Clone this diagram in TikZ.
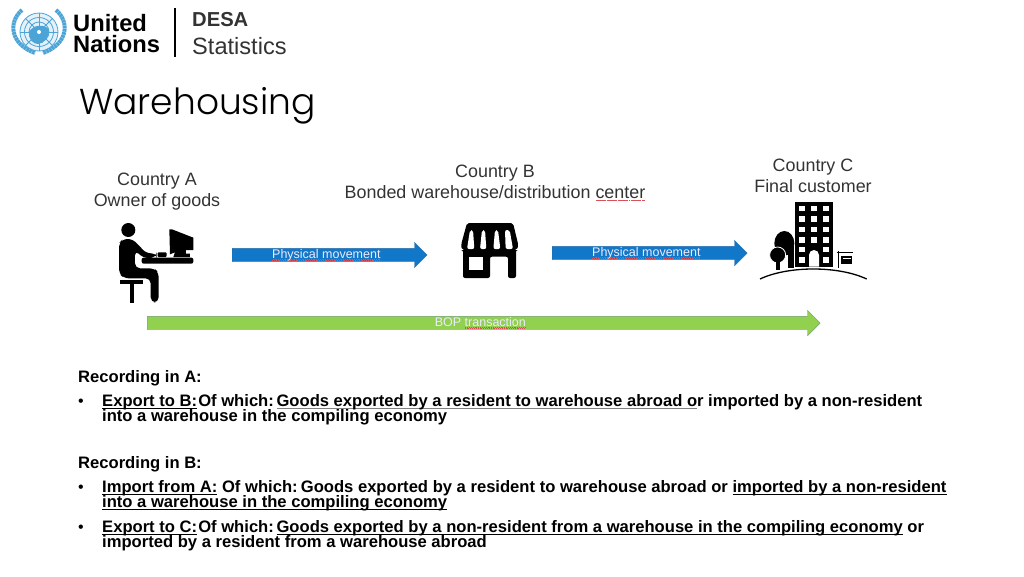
\documentclass[tikz,border=0pt]{standalone}
\usepackage{fontspec}
\usetikzlibrary{shapes.arrows}
\setmainfont{Liberation Sans}
\newfontfamily\titlefont{Poppins Light}
\definecolor{unblue}{HTML}{4BA3D6}
\definecolor{labelgray}{HTML}{333333}
\definecolor{moveblue}{HTML}{1177C8}
\definecolor{moveedge}{HTML}{2A6CA8}
\definecolor{bopgreen}{HTML}{92D050}
\definecolor{bopedge}{HTML}{6F9C6A}
\definecolor{spellred}{HTML}{D8505A}
\newsavebox{\linebox}
\newcommand{\uline}[1]{\sbox{\linebox}{#1}\rlap{\rule[-2.4pt]{\wd\linebox}{.8pt}}\usebox{\linebox}}
\newcommand{\grayline}[1]{\sbox{\linebox}{#1}\rlap{\textcolor{gray}{\rule[-2.6pt]{\wd\linebox}{1.1pt}}}\usebox{\linebox}}
\newcommand{\spellwave}[1]{\sbox{\linebox}{#1}\rlap{\textcolor{spellred}{\hbox to \wd\linebox{\xleaders\hbox{\rule[-1.9pt]{.6pt}{.3pt}\rule[-1.4pt]{.6pt}{.3pt}\hspace{.6pt}}\hfil}}}\usebox{\linebox}}

\begin{document}
\begin{tikzpicture}[x=1pt,y=-1pt]

    \tikzset{
      LabelStyle/.style = { text = labelgray, align = center,
                          font = \fontsize{17.9}{21}\selectfont },
      MoveStyle/.style = { single arrow, draw = moveedge, fill = moveblue,
                          text = white!92!blue, inner sep = 1.5pt,
                          text height = 8pt, text depth = 2pt,
                          single arrow head extend = 6pt,
                          single arrow head indent = 0pt,
                          minimum height = 195pt, anchor = tail,
                          font = \fontsize{12.5}{14}\selectfont },
      BopStyle/.style = { MoveStyle, draw = bopedge, fill = bopgreen,
                          minimum height = 673pt },
      BodyStyle/.style = { anchor = base west, inner sep = 0pt,
                          font = \fontsize{16.6}{18}\selectfont\bfseries },
      BulletStyle/.style = { anchor = base west, inner sep = 0pt,
                          font = \fontsize{16}{18}\selectfont },
      LogoLine/.style = { draw = unblue, line width = .8pt },
      LogoText/.style = { anchor = base west, inner sep = 0pt,
                          font = \fontsize{23.7}{24}\selectfont\bfseries },
      Wreath/.style = { draw = unblue, line width = 4pt,
                          dash pattern = on 2.6pt off .5pt } }

    \useasboundingbox (0,0) rectangle (1024,576);

    \fill[unblue!15] (39,32) circle (19);
    \draw[LogoLine] (39,32) circle (19);
    \draw[LogoLine] (39,32) circle (14.5);
    \draw[LogoLine] (39,32) circle (10);
    \draw[LogoLine] (39,32) circle (5.5);
    \draw[LogoLine] (20,32) -- (58,32);
    \draw[LogoLine] (39,13) -- (39,51);
    \draw[LogoLine] (25.6,18.6) -- (52.4,45.4);
    \draw[LogoLine] (25.6,45.4) -- (52.4,18.6);
    \fill[unblue] (29,32) .. controls (33,24) and (46,24) .. (49,30)
      .. controls (49,37) and (44,44) .. (38,44)
      .. controls (33,44) and (28,39) .. (29,32);
    \fill[white] (39,32) circle (2);
    \draw[Wreath] (22,10) .. controls (8,22) and (10,44) .. (35,53);
    \draw[Wreath] (56,10) .. controls (70,22) and (68,44) .. (43,53);

    \node[LogoText] (united) at (73,31) {United};
    \node[LogoText] (nations) at (73,52) {Nations};
    \draw[line width=2pt] (175,8) -- (175,57);
    \node[LogoText,text=labelgray,font=\fontsize{20.2}{24}\selectfont\bfseries] (desa) at (192,26) {DESA};
    \node[LogoText,text=labelgray,font=\fontsize{23.6}{24}\selectfont] (stats) at (192,54) {Statistics};

    \node[anchor=base west,inner sep=0pt,font=\fontsize{36}{40}\selectfont\titlefont] (title) at (79,114) {Warehousing};

    \node[LabelStyle] (countryA) at (157,192) {Country A\\Owner of goods};
    \node[LabelStyle] (countryB) at (495,183) {Country B\\Bonded warehouse/distribution \spellwave{center}};
    \node[LabelStyle] (countryC) at (813,176) {Country C\\Final customer};

    \node[MoveStyle] (moveAB) at (232,255) {\spellwave{Physical movement}};
    \node[MoveStyle] (moveBC) at (552,253) {\spellwave{Physical movement}};
    \node[BopStyle] (bop) at (147,323) {BOP \spellwave{transaction}};

    \begin{scope}[shift={(110,215)},x=.3333pt,y=-.3333pt]
      \fill (55,45) circle (21);
      \fill[rounded corners=5pt] (27,175) -- (27,85) -- (38,72) -- (68,72) -- (110,116)
        -- (140,114) -- (140,127) -- (102,130) -- (75,106) -- (75,160) -- (132,160)
        -- (146,172) -- (146,262) -- (122,262) -- (122,190) -- (42,190) -- cycle;
      \fill (30,195) rectangle (100,208);
      \fill (60,208) rectangle (73,265);
      \fill[rounded corners=2pt] (95,128) rectangle (250,146);
      \fill[rounded corners=1pt] (143,112) rectangle (170,126);
      \fill (178,43) -- (186,43) -- (250,68) -- (250,105) -- (228,105) -- (228,116)
        -- (240,116) -- (240,126) -- (190,126) -- (195,112) -- (180,118) -- cycle;
    \end{scope}

    \begin{scope}[shift={(455,215)},x=.3333pt,y=-.3333pt]
      \fill[rounded corners=2pt] (36,24) -- (174,24) -- (190,90) -- (186,105) -- (183,105)
        -- (183,189) -- (159,189) -- (159,125) -- (105,125) -- (105,189) -- (24,189)
        -- (24,105) -- (21,105) -- (18,90) -- cycle;
      \fill[white] (42,126) rectangle (84,165);
      \fill[white,rounded corners=2pt] (45,45) -- (54,45) -- (58,102) -- (36,102) -- cycle;
      \fill[white,rounded corners=2pt] (81,45) -- (90,45) -- (94,102) -- (75,102) -- cycle;
      \fill[white,rounded corners=2pt] (120,45) -- (129,45) -- (136,102) -- (115,102) -- cycle;
      \fill[white,rounded corners=2pt] (150,45) -- (164,45) -- (174,102) -- (152,102) -- cycle;
    \end{scope}

    \begin{scope}[shift={(755,195)},x=.3333pt,y=-.3333pt]
      \fill (120,22) rectangle (235,215);
      \fill[white] (132,32) rectangle (150,48);
      \fill[white] (168,32) rectangle (186,48);
      \fill[white] (205,32) rectangle (223,48);
      \fill[white] (132,62) rectangle (150,80);
      \fill[white] (168,62) rectangle (186,80);
      \fill[white] (205,62) rectangle (223,80);
      \fill[white] (132,95) rectangle (150,112);
      \fill[white] (168,95) rectangle (186,112);
      \fill[white] (205,95) rectangle (223,112);
      \fill[white] (132,125) rectangle (150,143);
      \fill[white] (168,125) rectangle (186,143);
      \fill[white] (205,125) rectangle (223,143);
      \fill[white] (132,155) rectangle (150,172);
      \fill[white] (205,155) rectangle (223,172);
      \fill[white] (132,185) rectangle (150,203);
      \fill[white] (205,185) rectangle (223,203);
      \fill[white] (162,215) -- (162,180) arc[start angle=180,end angle=360,radius=15] -- (192,215) -- cycle;
      \fill (88,145) ellipse (30 and 37);
      \fill (100,150) rectangle (116,218);
      \fill[draw=white,line width=.8pt] (68,180) circle (24);
      \fill (64,195) rectangle (74,226);
      \draw[line width=1.2pt] (251,168) -- (251,218);
      \draw[line width=1.4pt] (245,173) -- (295,173);
      \fill (258,182) rectangle (292,207);
      \fill[white] (263,188) rectangle (287,192);
      \draw[line width=1.3pt] (15,252) .. controls (100,212) and (250,212) .. (335,252);
    \end{scope}

    \node[BodyStyle] (recA) at (78,382) {Recording in A:};
    \node[BulletStyle] (bulA) at (78,406) {•};
    \node[BodyStyle] (expB) at (102,406) {\uline{Export to B:}\hspace{-3.5pt} Of which:\hspace{-3.5pt} \grayline{Goods exported by a resident to warehouse abroad o}r imported by a non-resident};
    \node[BodyStyle] (expBb) at (102,421) {into a warehouse in the compiling economy};

    \node[BodyStyle] (recB) at (78,468) {Recording in B:};
    \node[BulletStyle] (bulB) at (78,492) {•};
    \node[BodyStyle] (impA) at (102,492) {\uline{Import from A:} Of which:\hspace{-3pt} Goods exported by a resident to warehouse abroad or \uline{imported by a non-resident}};
    \node[BodyStyle] (impAb) at (102,507) {\uline{into a warehouse in the compiling economy}};
    \node[BulletStyle] (bulC) at (78,532) {•};
    \node[BodyStyle] (expC) at (102,532) {\uline{Export to C:}\hspace{-3.5pt} Of which:\hspace{-3.5pt} \uline{Goods exported by a non-resident from a warehouse in the compiling economy} or};
    \node[BodyStyle] (expCb) at (102,547) {imported by a resident from a warehouse abroad};

\end{tikzpicture}
\end{document}
